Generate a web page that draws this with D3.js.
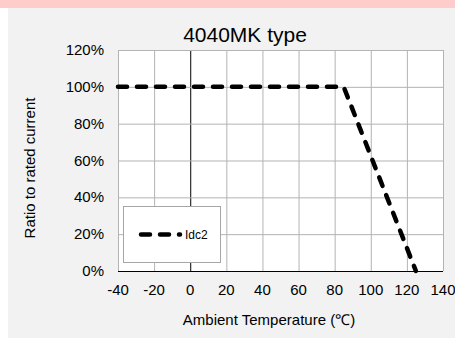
<!DOCTYPE html>
<html>
<head>
<meta charset="utf-8">
<script src="https://cdn.jsdelivr.net/npm/d3@7"></script>
<style>
  body { margin: 0; background: #fff; }
  text { font-family: "Liberation Sans", Arial, sans-serif; fill: #000; }
</style>
</head>
<body>
<div id="chart"></div>
<script>
// derating curve
const temps = [-40, 85, 125];
const ratios = [100, 100, 0];
const xTicks = [-40, -20, 0, 20, 40, 60, 80, 100, 120, 140];
const yTicks = [0, 20, 40, 60, 80, 100, 120];
const seriesName = "Idc2";
const title = "4040MK type";

const width = 455, height = 338;
const plot = { left: 118, right: 443, top: 50, bottom: 271 };

const svg = d3.select("#chart")
  .append("svg")
  .attr("width", width)
  .attr("height", height);

// page bits
svg.append("rect").attr("x", 0).attr("y", 0).attr("width", width).attr("height", 8).attr("fill", "#ffcccc");
svg.append("rect").attr("x", 8).attr("y", 8).attr("width", width - 8).attr("height", height - 8).attr("fill", "#f2f2f2");

const x = d3.scaleLinear().domain([-40, 140]).range([plot.left, plot.right]);
const y = d3.scaleLinear().domain([0, 120]).range([plot.bottom, plot.top]);

// plot area
svg.append("rect")
  .attr("x", plot.left).attr("y", plot.top)
  .attr("width", plot.right - plot.left).attr("height", plot.bottom - plot.top)
  .attr("fill", "#fff");

// grid
svg.selectAll(".vgrid")
  .data(xTicks)
  .enter()
  .append("line")
  .attr("x1", d => x(d) + 0.5).attr("x2", d => x(d) + 0.5)
  .attr("y1", plot.top).attr("y2", plot.bottom)
  .attr("stroke", d => d === 0 ? "#000" : "#b3b3b3")
  .attr("stroke-width", 1);

svg.selectAll(".hgrid")
  .data(yTicks)
  .enter()
  .append("line")
  .attr("x1", plot.left).attr("x2", plot.right)
  .attr("y1", d => y(d) + 0.5).attr("y2", d => y(d) + 0.5)
  .attr("stroke", d => d === 0 ? "#000" : "#b3b3b3")
  .attr("stroke-width", 1);

// tick labels
svg.selectAll(".ylab")
  .data(yTicks)
  .enter()
  .append("text")
  .attr("x", 104)
  .attr("y", d => y(d) + 5)
  .attr("text-anchor", "end")
  .style("font-size", "15px")
  .text(d => d + "%");

svg.selectAll(".xlab")
  .data(xTicks)
  .enter()
  .append("text")
  .attr("x", d => x(d))
  .attr("y", 295)
  .attr("text-anchor", "middle")
  .style("font-size", "15px")
  .text(d => d);

// titles
svg.append("text")
  .attr("x", 245).attr("y", 42)
  .attr("text-anchor", "middle")
  .style("font-size", "21px")
  .text(title);

svg.append("text")
  .attr("x", 269).attr("y", 325)
  .attr("text-anchor", "middle")
  .style("font-size", "15px")
  .text("Ambient Temperature (℃)");

svg.append("text")
  .attr("transform", "translate(35,168) rotate(-90)")
  .attr("text-anchor", "middle")
  .style("font-size", "15px")
  .text("Ratio to rated current");

// series
const line = d3.line()
  .x((d, i) => x(temps[i]))
  .y(d => y(d));

svg.append("path")
  .datum(ratios)
  .attr("d", line)
  .attr("fill", "none")
  .attr("stroke", "#000")
  .attr("stroke-width", 4.5)
  .attr("stroke-linecap", "round")
  .attr("stroke-dasharray", "9,10");

// legend
const legend = svg.append("g");
legend.append("rect")
  .attr("x", 123.5).attr("y", 206.5)
  .attr("width", 97).attr("height", 56)
  .attr("fill", "#fff")
  .attr("stroke", "#a6a6a6");
legend.append("line")
  .attr("x1", 141).attr("x2", 180)
  .attr("y1", 234.5).attr("y2", 234.5)
  .attr("stroke", "#000")
  .attr("stroke-width", 4.5)
  .attr("stroke-linecap", "round")
  .attr("stroke-dasharray", "9,10");
legend.append("text")
  .attr("x", 185).attr("y", 239)
  .style("font-size", "12px")
  .text(seriesName);
</script>
</body>
</html>
